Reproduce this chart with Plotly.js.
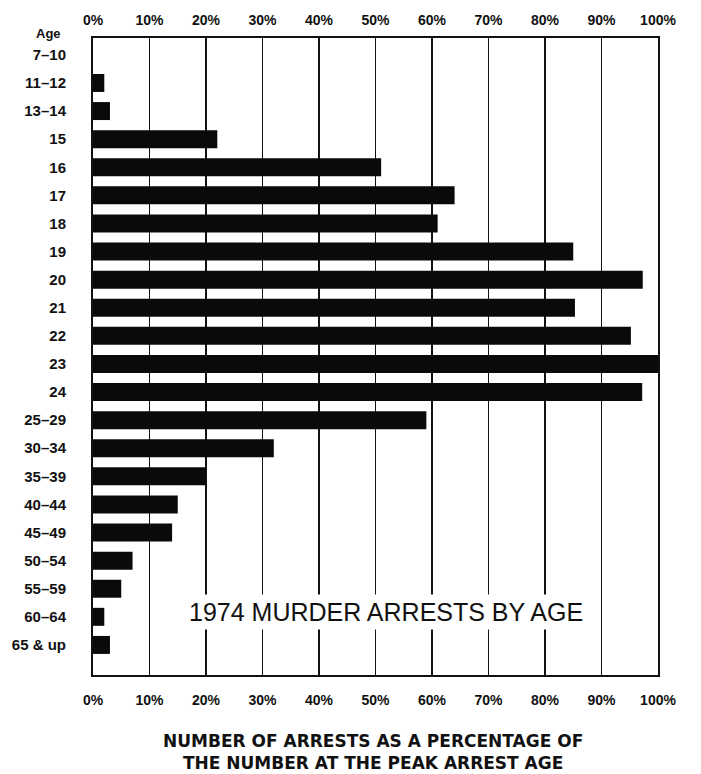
<!DOCTYPE html>
<html>
<head>
<meta charset="utf-8">
<script src="https://cdn.plot.ly/plotly-3.0.1.min.js"></script>
<style>
  html, body { margin: 0; padding: 0; background: #fff; }
  #chart { width: 701px; height: 774px; }
</style>
</head>
<body>
<div id="chart"></div>
<script>
// murder arrests by age, as % of the number at peak age (23)
var ages = ['7\u201310', '11\u201312', '13\u201314', '15', '16', '17', '18', '19', '20', '21', '22', '23', '24',
            '25\u201329', '30\u201334', '35\u201339', '40\u201344', '45\u201349', '50\u201354', '55\u201359', '60\u201364', '65 & up'];
var pctOfPeak = [0, 2, 3, 22, 51, 64, 61, 85, 97.3, 85.3, 95.2, 100, 97.2,
                 59, 32, 20, 15, 14, 7, 5, 2, 3];

var tickVals = [0, 10, 20, 30, 40, 50, 60, 70, 80, 90, 100];
var tickText = tickVals.map(function (v) { return '<b>' + v + '%</b>'; });

var FONT = '"Liberation Sans", Arial, Helvetica, sans-serif';

var bars = {
  type: 'bar',
  orientation: 'h',
  x: pctOfPeak,
  y: ages,
  width: 0.64,
  marker: { color: '#0a0a0a', line: { width: 0 } },
  hoverinfo: 'x+y'
};

// same bars again, invisible, so the bottom axis gets drawn
var barsBottom = Object.assign({}, bars, { xaxis: 'x2', opacity: 0, hoverinfo: 'skip' });

var xCommon = {
  range: [0, 100],
  tickvals: tickVals,
  ticktext: tickText,
  tickfont: { family: FONT, size: 14, color: '#111' },
  ticks: 'outside',
  tickcolor: 'rgba(0,0,0,0)',
  zeroline: false,
  fixedrange: true
};

var layout = {
  width: 701,
  height: 774,
  margin: { l: 93, r: 43, t: 38, b: 99 },
  paper_bgcolor: '#fff',
  plot_bgcolor: '#fff',
  showlegend: false,
  barmode: 'overlay',
  font: { family: FONT, color: '#111' },
  xaxis: Object.assign({}, xCommon, {
    side: 'top',
    ticklen: 5,
    showgrid: true,
    gridcolor: '#111',
    gridwidth: 1.5,
    showline: true,
    mirror: true,
    linecolor: '#111',
    linewidth: 2
  }),
  xaxis2: Object.assign({}, xCommon, {
    side: 'bottom',
    ticklen: 12,
    overlaying: 'x',
    anchor: 'y',
    matches: 'x',
    showgrid: false,
    showline: false
  }),
  yaxis: {
    type: 'category',
    categoryorder: 'array',
    categoryarray: ages,
    range: [22.07, -0.6],
    showgrid: false,
    zeroline: false,
    showline: true,
    mirror: true,
    linecolor: '#111',
    linewidth: 2,
    ticks: '',
    ticklabelstandoff: 22,
    tickfont: { family: FONT, size: 15, color: '#111' },
    tickprefix: '<b>',
    ticksuffix: '</b>',
    fixedrange: true
  },
  annotations: [
    {
      text: '<b>Age</b>', xref: 'paper', yref: 'paper',
      x: (48 - 93) / 565, y: (675 - 34) / 637,
      xanchor: 'center', yanchor: 'middle', showarrow: false,
      font: { family: FONT, size: 13, color: '#111' }
    },
    {
      text: '1974 MURDER ARRESTS BY AGE', xref: 'x', yref: 'paper',
      x: 51.9, y: 0.099, xanchor: 'center', yanchor: 'middle', showarrow: false,
      bgcolor: '#fff', borderpad: 3,
      font: { family: FONT, size: 25, color: '#111' }
    },
    {
      text: '<b>NUMBER OF ARRESTS AS A PERCENTAGE OF<br>THE NUMBER AT THE PEAK ARREST AGE</b>',
      xref: 'paper', yref: 'paper', x: 0.496, y: -0.121,
      xanchor: 'center', yanchor: 'middle', showarrow: false,
      font: { family: '"DejaVu Sans", ' + FONT, size: 17, color: '#111' }
    }
  ]
};

Plotly.newPlot('chart', [bars, barsBottom], layout, { displayModeBar: false, staticPlot: true });
</script>
</body>
</html>
